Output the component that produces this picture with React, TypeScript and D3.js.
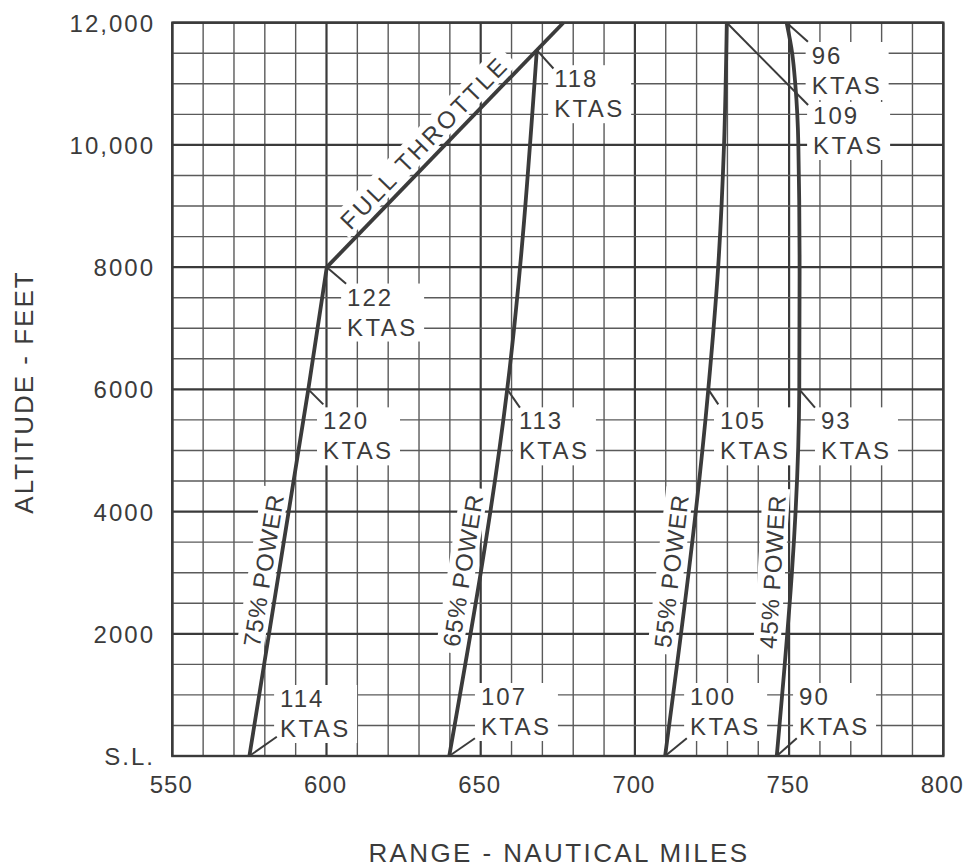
import React from 'react';
import * as d3 from 'd3';

// ---- Data ----
const alt75 = [0, 6000, 8000];
const rng75 = [575, 594.1, 600.1];
const alt65 = [0, 6000, 11550];
const rng65 = [639.8, 658.6, 668.2];
const alt55 = [0, 6000, 8000, 10000, 12000];
const rng55 = [709.8, 723.8, 727, 728.9, 729.8];
const alt45 = [0, 6000, 8000, 10000, 11000, 11500, 12000];
const rng45 = [746, 753.3, 753.4, 753, 752, 751, 749.2];
const altFT = [8000, 12000];
const rngFT = [600.1, 676.8];

const powerNames = ['75% POWER', '65% POWER', '55% POWER', '45% POWER'];

const xTicks = [550, 600, 650, 700, 750, 800];
const yTicks = [0, 2000, 4000, 6000, 8000, 10000, 12000];
const yTickLabels = ['S.L.', '2000', '4000', '6000', '8000', '10,000', '12,000'];

const ktasSpeeds = ['122', '120', '114', '118', '113', '107', '109', '105', '100', '96', '93', '90'];
const ktasSeries = [0, 0, 0, 1, 1, 1, 2, 2, 2, 3, 3, 3];
const ktasAlt = [8000, 6000, 0, 11550, 6000, 0, 12000, 6000, 0, 12000, 6000, 0];

// ---- Layout (pixel offsets for annotation placement) ----
const leaderOff: [number, number][] = [
  [19.3, 16.7], [15, 15], [27.4, -19.3],
  [16.6, 18.3], [12.7, 18.3], [25.7, -17.7],
  [81.3, 82.3], [10, 15], [21.7, -17.7],
  [21.3, 19], [15.7, 18.3], [20, -17.7],
];
const textOff: [number, number][] = [
  [20.3, 38.4], [14.7, 40], [30.7, -49],
  [17.3, 37], [11.7, 40], [31.7, -51],
  [86.3, 101.3], [11.7, 40], [25, -51],
  [25, 41.3], [21.7, 40], [22.3, -51],
];

const W = 965;
const H = 867;
const INK = '#3b3b3b';
const FONT = '"Liberation Sans", Arial, Helvetica, sans-serif';

const x = d3.scaleLinear().domain([550, 800]).range([172.3, 943.3]);
const y = d3.scaleLinear().domain([0, 12000]).range([756, 22.7]);

type Pt = { a: number; r: number };
const zip = (a: number[], r: number[]): Pt[] => a.map((v, i) => ({ a: v, r: r[i] }));

const series: Pt[][] = [zip(alt75, rng75), zip(alt65, rng65), zip(alt55, rng55), zip(alt45, rng45)];
const ftSeries = zip(altFT, rngFT);

const lineGen = d3
  .line<Pt>()
  .x((d) => x(d.r))
  .y((d) => y(d.a))
  .curve(d3.curveMonotoneY);

function rangeAt(s: Pt[], a: number): number {
  const alts = s.map((d) => d.a);
  const rs = s.map((d) => d.r);
  return d3.scaleLinear().domain(alts).range(rs).clamp(true)(a);
}

function rotatedLabel(
  s: Pt[],
  centerAlt: number,
  text: string,
  gap: number,
  fontSize: number,
  spacing: number,
  estLen: number,
  key: string
) {
  const a0 = centerAlt - 1000;
  const a1 = centerAlt + 1000;
  const p0 = [x(rangeAt(s, a0)), y(a0)];
  const p1 = [x(rangeAt(s, a1)), y(a1)];
  const ang = Math.atan2(p1[1] - p0[1], p1[0] - p0[0]);
  const deg = (ang * 180) / Math.PI;
  const cx = x(rangeAt(s, centerAlt));
  const cy = y(centerAlt);
  const ux = Math.sin(ang);
  const uy = -Math.cos(ang);
  const bx = cx + ux * gap;
  const by = cy + uy * gap;
  const cap = fontSize * 0.72;
  return (
    <g key={key} transform={`translate(${bx},${by}) rotate(${deg})`}>
      <rect x={-estLen / 2 - 7} y={-cap - 6} width={estLen + 14} height={cap + 10} fill="#fff" />
      <text
        x={0}
        y={0}
        textAnchor="middle"
        fontSize={fontSize}
        letterSpacing={spacing}
        fill={INK}
        fontFamily={FONT}
      >
        {text}
      </text>
    </g>
  );
}

export default function App() {
  const xGrid = d3.range(550, 801, 10);
  const yGrid = d3.range(0, 12001, 500);

  const labels = ktasSpeeds.map((sp, i) => {
    const s = series[ktasSeries[i]];
    const ax = x(rangeAt(s, ktasAlt[i]));
    const ay = y(ktasAlt[i]);
    const [lx, ly] = leaderOff[i];
    const [tx, ty] = textOff[i];
    return { sp, ax, ay, lx: ax + lx, ly: ay + ly, tx: ax + tx, ty: ay + ty };
  });

  return (
    <svg
      width={W}
      height={H}
      style={{ position: 'absolute', left: 0, top: 0, background: '#fff' }}
      fontFamily={FONT}
    >
      <rect x={0} y={0} width={W} height={H} fill="#fff" />
      {/* grid */}
      <g>
        {xGrid.map((v) => (
          <line
            key={'gx' + v}
            x1={x(v)}
            x2={x(v)}
            y1={y(0)}
            y2={y(12000)}
            stroke={v % 50 === 0 ? '#3a3a3a' : '#5a5a5a'}
            strokeWidth={v % 50 === 0 ? 2.2 : 1.4}
          />
        ))}
        {yGrid.map((v) => (
          <line
            key={'gy' + v}
            x1={x(550)}
            x2={x(800)}
            y1={y(v)}
            y2={y(v)}
            stroke={v % 2000 === 0 ? '#3a3a3a' : '#5a5a5a'}
            strokeWidth={v % 2000 === 0 ? 2.2 : 1.4}
          />
        ))}
      </g>

      {/* label backgrounds */}
      {labels.map((l, i) => (
        <rect key={'bg' + i} x={l.tx - 6} y={l.ty - 22} width={83} height={58} fill="#fff" />
      ))}

      {/* rotated labels */}
      {series.map((s, i) => rotatedLabel(s, 3000, powerNames[i], 7, 24, 1, 153, 'pl' + i))}
      {rotatedLabel(ftSeries, 9850, 'FULL THROTTLE', 8, 24, 3, 228, 'ft')}

      {/* border */}
      <rect
        x={x(550)}
        y={y(12000)}
        width={x(800) - x(550)}
        height={y(0) - y(12000)}
        fill="none"
        stroke="#3a3a3a"
        strokeWidth={2.4}
      />

      {/* curves */}
      {series.map((s, i) => (
        <path key={'c' + i} d={lineGen(s) || ''} fill="none" stroke={INK} strokeWidth={3.8} strokeLinejoin="round" />
      ))}
      <path d={lineGen(ftSeries) || ''} fill="none" stroke={INK} strokeWidth={3.8} />

      {/* leaders & KTAS labels */}
      {labels.map((l, i) => (
        <g key={'lb' + i}>
          <line x1={l.ax} y1={l.ay} x2={l.lx} y2={l.ly} stroke={INK} strokeWidth={2} />
          <text x={l.tx} y={l.ty} fontSize={24} letterSpacing={2} fill={INK}>
            {l.sp}
          </text>
          <text x={l.tx} y={l.ty + 30} fontSize={24} letterSpacing={2.4} fill={INK}>
            KTAS
          </text>
        </g>
      ))}

      {/* y tick labels */}
      {yTicks.map((v, i) => (
        <text key={'yt' + v} x={155} y={y(v) + 9} textAnchor="end" fontSize={24} letterSpacing={2} fill={INK}>
          {yTickLabels[i]}
        </text>
      ))}
      {/* x tick labels */}
      {xTicks.map((v) => (
        <text key={'xt' + v} x={x(v) - 1} y={793} textAnchor="middle" fontSize={24} letterSpacing={1} fill={INK}>
          {v}
        </text>
      ))}

      {/* axis titles */}
      <text
        transform={`translate(33,392) rotate(-90)`}
        textAnchor="middle"
        fontSize={26}
        letterSpacing={2}
        fill={INK}
      >
        ALTITUDE - FEET
      </text>
      <text x={559} y={862} textAnchor="middle" fontSize={26} letterSpacing={2.4} fill={INK}>
        RANGE - NAUTICAL MILES
      </text>
    </svg>
  );
}
